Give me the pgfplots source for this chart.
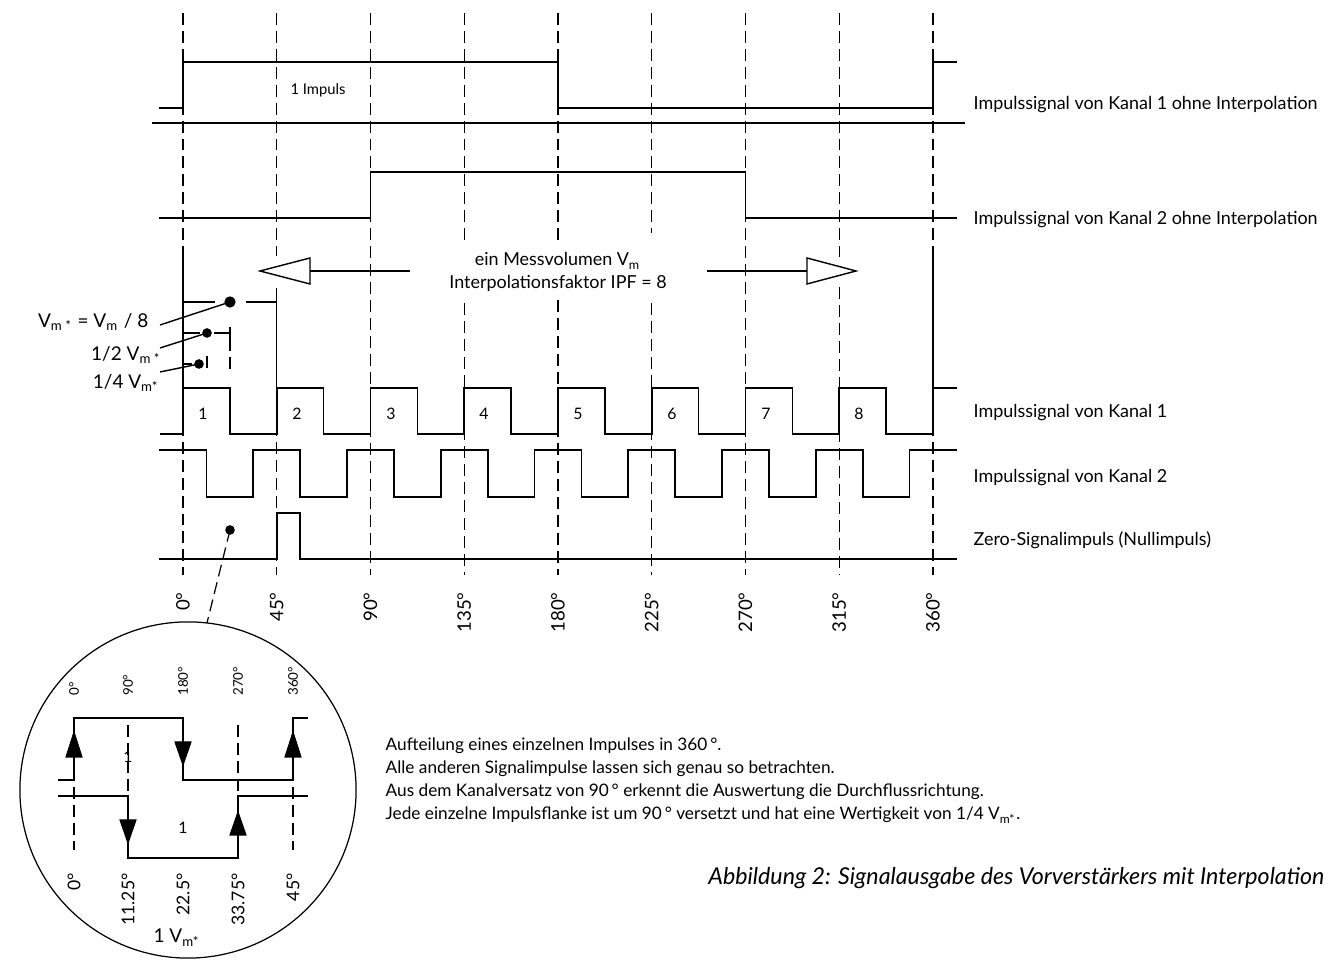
\documentclass[border=0pt]{standalone}
\usepackage{fontspec}
\setmainfont{Lato}
\usepackage{pgfplots}
\pgfplotsset{compat=1.18}
\newcommand\fsR{\fontsize{5.1pt}{6.1pt}\selectfont}
\newcommand\fsX{\fontsize{4.9pt}{5.9pt}\selectfont}
\newcommand\fsC{\fontsize{6.6pt}{7.6pt}\selectfont}
\newcommand\fsT{\fontsize{5.3pt}{6.3pt}\selectfont}
\newcommand\fsL{\fontsize{5.4pt}{6.4pt}\selectfont}
\newcommand\fsS{\fontsize{4.2pt}{5pt}\selectfont}
\newcommand\fsN{\fontsize{4.5pt}{5.4pt}\selectfont}
\newcommand\fsI{\fontsize{3.8pt}{4.6pt}\selectfont}
\newcommand\fsB{\fontsize{5.0pt}{6pt}\selectfont}
\tikzset{
  sig/.style={black,line width=0.5pt,line cap=butt,line join=miter},
  dsh/.style={black,line width=0.35pt,dash pattern=on 3.4pt off 1.7pt},
  sol/.style={black,line width=0.4pt}
}
\begin{document}
\begin{tikzpicture}
\begin{axis}[x=0.01cm,y=0.01cm,xmin=0,xmax=1333,ymin=0,ymax=962,
  y dir=reverse,hide axis,clip=false]
% ---------- dashed degree lines ----------
\addplot[dsh] coordinates {(183,13)(183,255)};
\addplot[sol] coordinates {(183,255)(183,388)};
\addplot[dsh] coordinates {(183,388)(183,575)};
\addplot[dsh] coordinates {(276.75,13)(276.75,256)};
\addplot[sol] coordinates {(276.75,288)(276.75,388)};
\addplot[dsh] coordinates {(276.75,388)(276.75,575)};
\addplot[dsh] coordinates {(370.5,13)(370.5,575)};
\addplot[dsh] coordinates {(464.25,13)(464.25,240)};
\addplot[dsh] coordinates {(464.25,303)(464.25,575)};
\addplot[dsh] coordinates {(558,13)(558,240)};
\addplot[dsh] coordinates {(558,300)(558,575)};
\addplot[dsh] coordinates {(651.75,13)(651.75,233)};
\addplot[dsh] coordinates {(651.75,303)(651.75,575)};
\addplot[dsh] coordinates {(745.5,13)(745.5,575)};
\addplot[dsh] coordinates {(839.25,13)(839.25,257)};
\addplot[dsh] coordinates {(839.25,287)(839.25,575)};
\addplot[dsh] coordinates {(933,13)(933,252)};
\addplot[sol] coordinates {(933,252)(933,388)};
\addplot[dsh] coordinates {(933,388)(933,575)};
% ---------- signals without interpolation ----------
\addplot[sig] coordinates {(159,108)(183,108)(183,62)(558,62)(558,108)(933,108)(933,62)(957,62)};
\addplot[sol] coordinates {(152,123)(965,123)};
\addplot[sig] coordinates {(159,218)(370.5,218)(370.5,172)(745.5,172)(745.5,218)(957,218)};
% ---------- channel 1 interpolated ----------
\addplot[sig] coordinates {(160,434)(183,434)(183,388)(229.9,388)(229.9,434)
 (276.75,434)(276.75,388)(323.6,388)(323.6,434)
 (370.5,434)(370.5,388)(417.4,388)(417.4,434)
 (464.25,434)(464.25,388)(511.1,388)(511.1,434)
 (558,434)(558,388)(604.9,388)(604.9,434)
 (651.75,434)(651.75,388)(698.6,388)(698.6,434)
 (745.5,434)(745.5,388)(792.4,388)(792.4,434)
 (839.25,434)(839.25,388)(886.1,388)(886.1,434)
 (933,434)(933,388)(957,388)};
% ---------- channel 2 interpolated ----------
\addplot[sig] coordinates {(159,450)(206.4,450)(206.4,497)(253.3,497)(253.3,450)
 (300.2,450)(300.2,497)(347.0,497)(347.0,450)
 (393.9,450)(393.9,497)(440.8,497)(440.8,450)
 (487.7,450)(487.7,497)(534.5,497)(534.5,450)
 (581.4,450)(581.4,497)(628.3,497)(628.3,450)
 (675.2,450)(675.2,497)(722.0,497)(722.0,450)
 (768.9,450)(768.9,497)(815.8,497)(815.8,450)
 (862.7,450)(862.7,497)(909.5,497)(909.5,450)(957,450)};
% ---------- zero pulse ----------
\addplot[sig] coordinates {(159,559)(276.75,559)(276.75,513)(300.2,513)(300.2,559)(957,559)};
% ---------- Vm arrows ----------
\addplot[sol] coordinates {(310,271)(410,271)};
\addplot[sol] coordinates {(707,271)(807,271)};
\addplot[sol,fill=white] coordinates {(260,271)(310,258)(310,284)} --cycle;
\addplot[sol,fill=white] coordinates {(856,271)(807,258)(807,284)} --cycle;
% ---------- Vm* markers ----------
\addplot[sol] coordinates {(183,302)(215,302)};
\addplot[sol] coordinates {(246,302)(276.75,302)};
\addplot[sol] coordinates {(183,333)(200,333)};
\addplot[sol] coordinates {(214,333)(230,333)};
\addplot[sol] coordinates {(230,327)(230,339)};
\addplot[dsh] coordinates {(230,339)(230,372)};
\addplot[sol] coordinates {(183,364)(192,364)};
\addplot[dsh] coordinates {(207,356)(207,372)};
\addplot[sol] coordinates {(160,325)(230,302)};
\addplot[sol] coordinates {(160,348)(207,333)};
\addplot[sol] coordinates {(160,372)(199,364)};
\addplot[only marks,mark=*,mark size=1.4pt,black] coordinates {(230,302)};
\addplot[only marks,mark=*,mark size=1.15pt,black] coordinates {(207,333)(199,364)(230,530)};
% ---------- inset ----------
\addplot[dsh] coordinates {(230,530)(207,623)};
\draw[line width=0.35pt] (axis cs:188,790) circle[radius=1.68cm];
\addplot[dsh] coordinates {(74,787)(74,850)};
\addplot[dsh] coordinates {(128,725)(128,795)};
\addplot[dsh] coordinates {(238,725)(238,795)};
\addplot[dsh] coordinates {(293,787)(293,850)};
\addplot[sig] coordinates {(58,780)(74,780)(74,718)(183,718)(183,780)(293,780)(293,718)(308,718)};
\addplot[sig] coordinates {(58,796)(128,796)(128,858)(238,858)(238,796)(308,796)};
\addplot[fill=black,draw=black,line width=0.3pt] coordinates {(66,757)(82,757)(74,732)} --cycle;
\addplot[fill=black,draw=black,line width=0.3pt] coordinates {(285,757)(301,757)(293,732)} --cycle;
\addplot[fill=black,draw=black,line width=0.3pt] coordinates {(175,742)(191,742)(183,765)} --cycle;
\addplot[fill=black,draw=black,line width=0.3pt] coordinates {(120,820)(136,820)(128,843)} --cycle;
\addplot[fill=black,draw=black,line width=0.3pt] coordinates {(230,835)(246,835)(238,812)} --cycle;
% ---------- texts ----------
\node[font=\fsS] at (axis cs:318,90) {1 Impuls};
\node[font=\fsR,anchor=west,inner sep=0pt] at (axis cs:973,105) {Impulssignal von Kanal 1 ohne Interpolation};
\node[font=\fsR,anchor=west,inner sep=0pt] at (axis cs:973,220) {Impulssignal von Kanal 2 ohne Interpolation};
\node[font=\fsR,anchor=west,inner sep=0pt] at (axis cs:973,413) {Impulssignal von Kanal 1};
\node[font=\fsR,anchor=west,inner sep=0pt] at (axis cs:973,478) {Impulssignal von Kanal 2};
\node[font=\fsR,anchor=west,inner sep=0pt] at (axis cs:973,540) {Zero-Signalimpuls (Nullimpuls)};
\node[font=\fsR] at (axis cs:558,261) {ein Messvolumen V\textsubscript{m}};
\node[font=\fsR] at (axis cs:558,283) {Interpolationsfaktor IPF = 8};
\node[font=\fsL,anchor=east,inner sep=0pt] at (axis cs:149,322) {V\textsubscript{m *} = V\textsubscript{m} / 8};
\node[font=\fsL,anchor=east,inner sep=0pt] at (axis cs:162,355) {1/2 V\textsubscript{m *}};
\node[font=\fsL,anchor=east,inner sep=0pt] at (axis cs:160,383) {1/4 V\textsubscript{m*}};
\node[font=\fsN] at (axis cs:203,414) {1};
\node[font=\fsN] at (axis cs:297,414) {2};
\node[font=\fsN] at (axis cs:391,414) {3};
\node[font=\fsN] at (axis cs:484,414) {4};
\node[font=\fsN] at (axis cs:578,414) {5};
\node[font=\fsN] at (axis cs:672,414) {6};
\node[font=\fsN] at (axis cs:766,414) {7};
\node[font=\fsN] at (axis cs:859,414) {8};
\node[font=\fsT,rotate=90,anchor=east] at (axis cs:183,580) {0°};
\node[font=\fsT,rotate=90,anchor=east] at (axis cs:276.75,580) {45°};
\node[font=\fsT,rotate=90,anchor=east] at (axis cs:370.5,580) {90°};
\node[font=\fsT,rotate=90,anchor=east] at (axis cs:464.25,580) {135°};
\node[font=\fsT,rotate=90,anchor=east] at (axis cs:558,580) {180°};
\node[font=\fsT,rotate=90,anchor=east] at (axis cs:651.75,580) {225°};
\node[font=\fsT,rotate=90,anchor=east] at (axis cs:745.5,580) {270°};
\node[font=\fsT,rotate=90,anchor=east] at (axis cs:839.25,580) {315°};
\node[font=\fsT,rotate=90,anchor=east] at (axis cs:933,580) {360°};
% inset texts
\node[font=\fsI,rotate=90,anchor=west] at (axis cs:74,708) {0°};
\node[font=\fsI,rotate=90,anchor=west] at (axis cs:128,708) {90°};
\node[font=\fsI,rotate=90,anchor=west] at (axis cs:183,708) {180°};
\node[font=\fsI,rotate=90,anchor=west] at (axis cs:238,708) {270°};
\node[font=\fsI,rotate=90,anchor=west] at (axis cs:293,708) {360°};
\node[font=\fsB,rotate=90,anchor=east] at (axis cs:74,861) {0°};
\node[font=\fsB,rotate=90,anchor=east] at (axis cs:128,861) {11.25°};
\node[font=\fsB,rotate=90,anchor=east] at (axis cs:183,861) {22.5°};
\node[font=\fsB,rotate=90,anchor=east] at (axis cs:238,861) {33.75°};
\node[font=\fsB,rotate=90,anchor=east] at (axis cs:293,861) {45°};
\node[font=\fsN] at (axis cs:128,757) {1};
\node[font=\fsN] at (axis cs:183,828) {1};
\node[font=\fsL] at (axis cs:177,938) {1 V\textsubscript{m*}};
% bottom text block
\node[font=\fsX,anchor=west,inner sep=0pt] at (axis cs:385,746) {Aufteilung eines einzelnen Impulses in 360\,°.};
\node[font=\fsX,anchor=west,inner sep=0pt] at (axis cs:385,769) {Alle anderen Signalimpulse lassen sich genau so betrachten.};
\node[font=\fsX,anchor=west,inner sep=0pt] at (axis cs:385,792) {Aus dem Kanalversatz von 90\,° erkennt die Auswertung die Durchflussrichtung.};
\node[font=\fsX,anchor=west,inner sep=0pt] at (axis cs:385,815) {Jede einzelne Impulsflanke ist um 90\,° versetzt und hat eine Wertigkeit von 1/4 V\textsubscript{m*}.};
\node[font=\fsC\itshape,anchor=east,inner sep=0pt] at (axis cs:1325,878) {Abbildung 2: Signalausgabe des Vorverstärkers mit Interpolation};
\end{axis}
\pgfresetboundingbox
\path[use as bounding box] (current axis.south west) rectangle (current axis.north east);
\end{tikzpicture}
\end{document}
